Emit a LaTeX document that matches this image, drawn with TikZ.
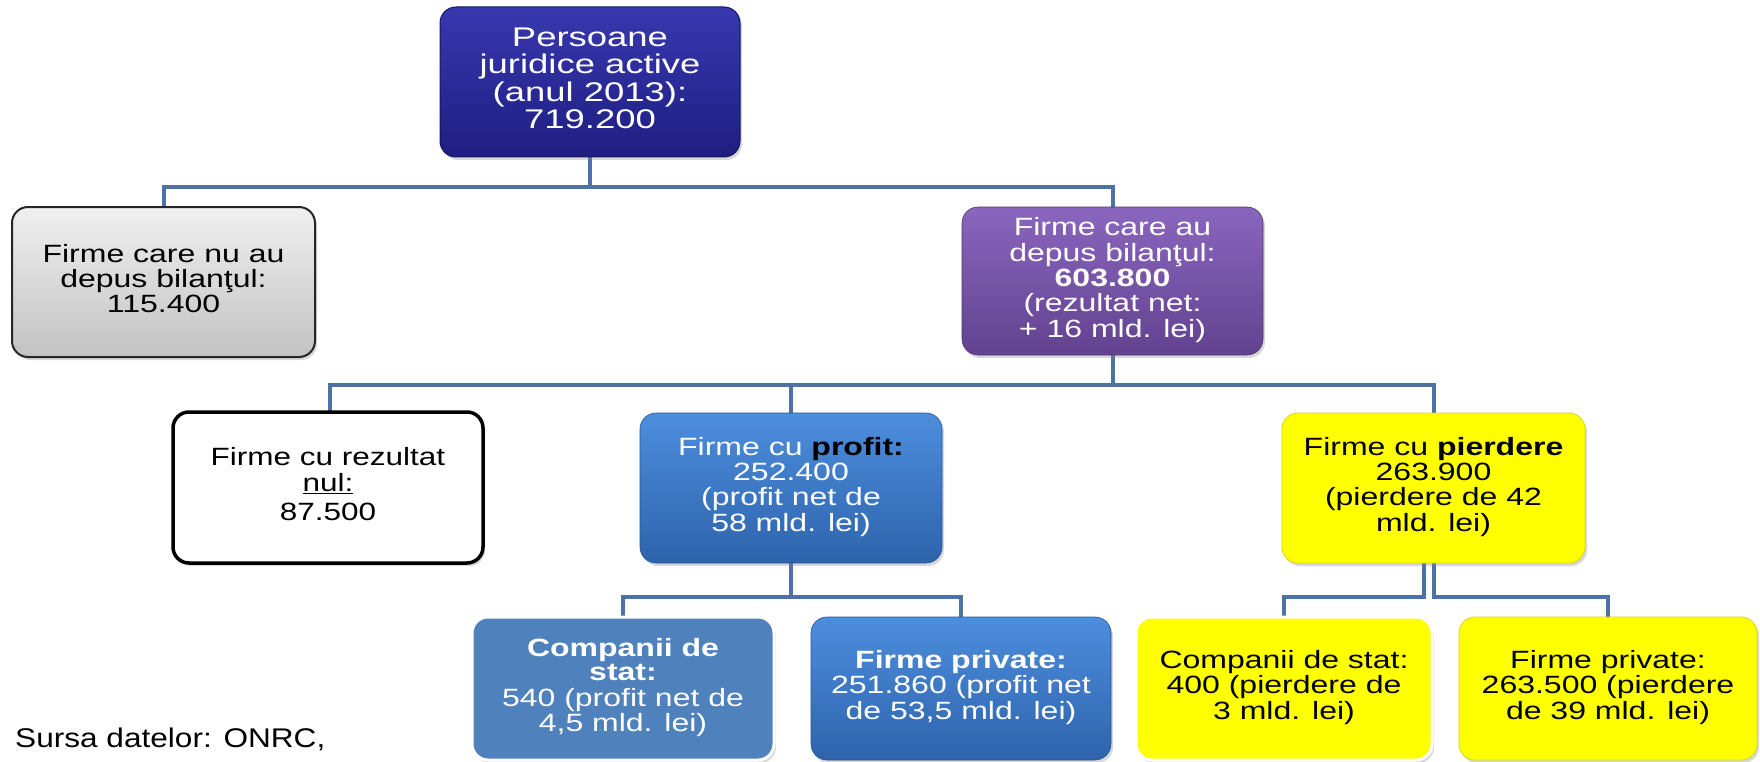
\documentclass[tikz,border=0pt]{standalone}
\usepackage{fontspec}
\setmainfont{Liberation Sans}
\usetikzlibrary{shadows}
\definecolor{navyT}{HTML}{3838B0}
\definecolor{navyB}{HTML}{1E1E82}
\definecolor{navyD}{HTML}{16165E}
\definecolor{greyT}{HTML}{F0F0F0}
\definecolor{greyB}{HTML}{C2C2C2}
\definecolor{purT}{HTML}{8A66BE}
\definecolor{purB}{HTML}{62428F}
\definecolor{bluT}{HTML}{4D8EDD}
\definecolor{bluB}{HTML}{2E63AC}
\definecolor{bluF}{HTML}{4F81BD}
\definecolor{yel}{HTML}{FFFF00}
\definecolor{yelD}{HTML}{D9D900}
\definecolor{connC}{HTML}{4F72A6}
\newcommand{\boxtxt}[2]{\scalebox{#1}[1]{\begin{tabular}{@{}c@{}}#2\end{tabular}}}
\begin{document}
\begin{tikzpicture}[x=1pt,y=-1pt,
  bx/.style 2 args={rectangle, rounded corners=16pt, inner sep=0pt, minimum width=#1, minimum height=#2},
  shad/.style={drop shadow={opacity=0.3, shadow xshift=2pt, shadow yshift=-3pt}},
  navybox/.style={shad, top color=navyT, bottom color=navyB, draw=navyD, line width=1pt, text=white, font=\fontsize{27}{27.3}\selectfont},
  greybox/.style={shad, top color=greyT, bottom color=greyB, draw=black!85, line width=2pt, text=black, font=\fontsize{25}{24.6}\selectfont},
  purbox/.style={shad, top color=purT, bottom color=purB, draw=purB!80!black, line width=0.6pt, text=white, font=\fontsize{25}{24.8}\selectfont},
  whitebox/.style={shad, fill=white, draw=black, line width=3.5pt, text=black, font=\fontsize{25}{26}\selectfont},
  bluebox/.style={shad, top color=bluT, bottom color=bluB, draw=bluB!85!black, line width=0.6pt, text=white, font=\fontsize{25}{24.6}\selectfont},
  flatblue/.style={shad, fill=bluF, draw=white, line width=3pt, text=white, font=\fontsize{25}{24.6}\selectfont},
  yelbox/.style={shad, fill=yel, draw=yelD, line width=0.8pt, text=black, font=\fontsize{25}{24.6}\selectfont},
  flatyel/.style={shad, fill=yel, draw=white, line width=3pt, text=black, font=\fontsize{25}{24.6}\selectfont},
  conn/.style={draw=connC, line width=4pt}
]
\useasboundingbox (0,0) rectangle (1760,762);
\fill[white] (0,0) rectangle (1760,762);

% connectors (drawn first, under the boxes)
\coordinate (cTop) at (590,157);
\coordinate (cGrey) at (163.5,207);
\coordinate (cPur) at (1112.5,207);
\coordinate (cPurS) at (1112.5,355);
\coordinate (cNul) at (330,412);
\coordinate (cProf) at (791,413);
\coordinate (cPier) at (1433.5,413);
\coordinate (cProfS) at (791,563);
\coordinate (cPierS) at (1433.5,563);
\coordinate (cCst) at (623,617);
\coordinate (cFpr) at (961,617);
\coordinate (cYst) at (1284,617);
\coordinate (cYpr) at (1608,617);

\draw[conn] (cTop) -- ++(0,30) -| (cGrey);
\draw[conn] (cTop) -- ++(0,30) -| (cPur);
\draw[conn] (cPurS) -- ++(0,30) -| (cNul);
\draw[conn] (cPurS) -- ++(0,30) -| (cProf);
\draw[conn] (cPurS) -- ++(0,30) -| (cPier);
\draw[conn] (cProfS) -- ++(0,34) -| (cCst);
\draw[conn] (cProfS) -- ++(0,34) -| (cFpr);
\draw[conn] ([xshift=-10pt]cPierS) -- ++(0,34) -| (cYst);
\draw[conn] (cPierS) -- ++(0,34) -| (cYpr);

% boxes
\node[bx={300pt}{150pt}, navybox] (top) at (590,82)
  {\boxtxt{1.35}{Persoane\\juridice active\\(anul 2013):\\719.200}};
\node[bx={303pt}{150pt}, greybox] (grey) at (163.5,282)
  {\boxtxt{1.28}{Firme care nu au\\depus bilanţul:\\115.400}};
\node[bx={301pt}{148pt}, purbox] (pur) at (1112.5,281)
  {\boxtxt{1.28}{Firme care au\\depus bilanţul:\\\textbf{603.800}\\(rezultat net:\\+ 16 mld. lei)}};
\node[bx={310pt}{151pt}, whitebox] (nul) at (328,487.5)
  {\boxtxt{1.26}{Firme cu rezultat\\\underline{nul:}\\[3pt]87.500}};
\node[bx={302pt}{150pt}, bluebox] (prof) at (791,488)
  {\boxtxt{1.28}{Firme cu \textcolor{black}{\textbf{profit:}}\\252.400\\(profit net de\\58 mld. lei)}};
\node[bx={303pt}{150pt}, yelbox] (pier) at (1433.5,488)
  {\boxtxt{1.28}{Firme cu \textbf{pierdere}\\263.900\\(pierdere de 42\\mld. lei)}};
\node[bx={302pt}{143pt}, flatblue] (cst) at (623,688.5)
  {\boxtxt{1.28}{\textbf{Companii de}\\\textbf{stat:}\\540 (profit net de\\4,5 mld. lei)}};
\node[bx={300pt}{143pt}, bluebox] (fpr) at (961,688.5)
  {\boxtxt{1.28}{\textbf{Firme private:}\\251.860 (profit net\\de 53,5 mld. lei)}};
\node[bx={296pt}{143pt}, flatyel] (yst) at (1284,688.5)
  {\boxtxt{1.28}{Companii de stat:\\400 (pierdere de\\3 mld. lei)}};
\node[bx={298pt}{143pt}, yelbox] (ypr) at (1608,688.5)
  {\boxtxt{1.28}{Firme private:\\263.500 (pierdere\\de 39 mld. lei)}};

\node[anchor=base west, inner sep=0pt, font=\fontsize{27}{30}\selectfont] (src) at (15,747)
  {\scalebox{1.17}[1]{Sursa datelor: ONRC,}};
\end{tikzpicture}
\end{document}
